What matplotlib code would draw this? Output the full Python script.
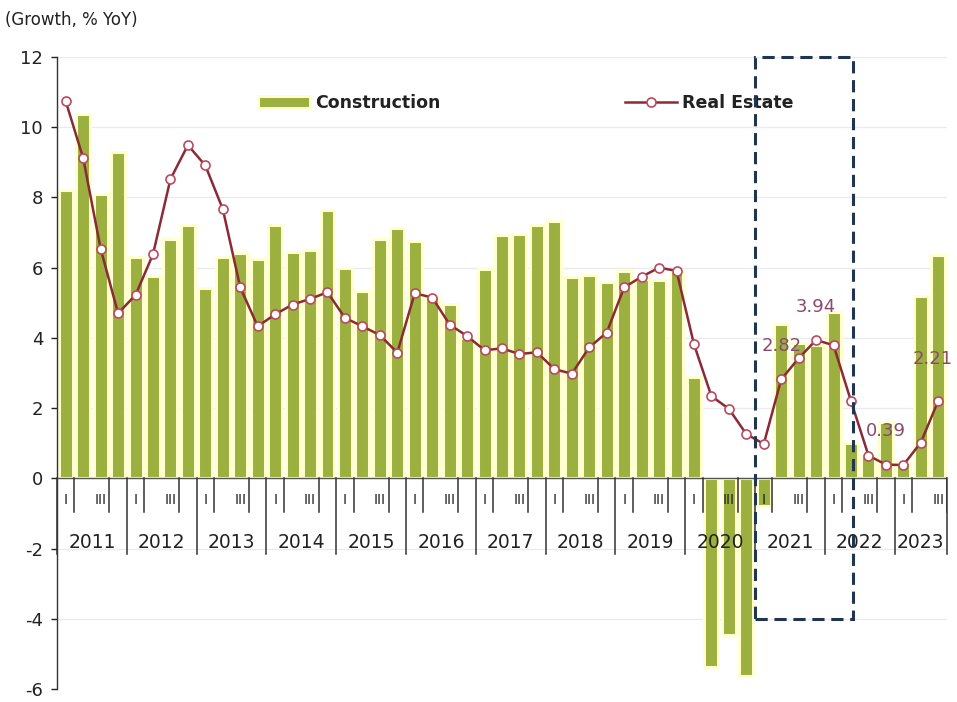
import matplotlib
matplotlib.use("Agg")
import matplotlib.pyplot as plt
from matplotlib.patches import Rectangle
import numpy as np

# ---------------- data ----------------
years = ['2011', '2012', '2013', '2014', '2015', '2016', '2017',
         '2018', '2019', '2020', '2021', '2022', '2023']
quarters_per_year = [4, 4, 4, 4, 4, 4, 4, 4, 4, 4, 4, 4, 3]
quarter_labels = ['I', '', 'III', '']

construction = [8.21, 10.39, 8.09, 9.29, 6.30, 5.77, 6.83, 7.22, 5.42, 6.30,
                6.43, 6.24, 7.22, 6.44, 6.50, 7.64, 6.00, 5.34, 6.83, 7.13,
                6.77, 5.20, 4.97, 4.00, 5.97, 6.94, 6.95, 7.22, 7.34, 5.72,
                5.79, 5.60, 5.91, 5.67, 5.65, 5.90, 2.90, -5.36, -4.45, -5.62,
                -0.80, 4.40, 3.85, 3.80, 4.75, 1.02, 0.65, 1.61, 0.46, 5.20,
                6.37]

real_estate = [10.74, 9.12, 6.54, 4.70, 5.22, 6.38, 8.52, 9.49, 8.91, 7.67,
               5.44, 4.33, 4.67, 4.95, 5.11, 5.30, 4.57, 4.33, 4.08, 3.58,
               5.27, 5.15, 4.38, 4.05, 3.65, 3.70, 3.54, 3.59, 3.11, 2.98,
               3.73, 4.15, 5.44, 5.74, 6.00, 5.91, 3.82, 2.34, 1.98, 1.26,
               0.98, 2.82, 3.42, 3.94, 3.79, 2.20, 0.65, 0.39, 0.38, 1.02,
               2.21]

labelled_points = [41, 43, 47, 50]
highlight_quarters = (40, 45)   # 2021 Q1 .. 2022 Q2 (box)

# ---------------- figure ----------------
plt.rcParams['font.family'] = ['DejaVu Sans']
plt.rcParams['axes.unicode_minus'] = False
W, H = 957, 702
fig = plt.figure(figsize=(W / 100, H / 100), dpi=100)
ax = fig.add_axes([57 / W, (H - 689) / H, (947 - 57) / W, (689 - 57) / H])

n = len(construction)
x = np.arange(n)

bar_green = '#9BB03F'
cream = '#FFFFCF'
line_col = '#8A2A36'

# grid
for gy in [-4, -2, 2, 4, 6, 8, 10, 12]:
    ax.axhline(gy, color='#EBEBEB', lw=1.0, zorder=0)

bars = ax.bar(x, construction, width=0.8, color=bar_green, edgecolor=cream,
              linewidth=2.2, zorder=2, label='Construction')

line, = ax.plot(x, real_estate, color=line_col, lw=1.8, marker='o', ms=6.5,
                mfc='white', mec='#B84A60', mew=1.2, zorder=4,
                label='Real Estate')

# zero axis line
ax.axhline(0, color='#555555', lw=1.0, zorder=3)

# quarter / year separators and labels
start = 0
for yr, nq in zip(years, quarters_per_year):
    left = start - 0.5
    ax.plot([left, left], [0, -2.15], color='#333333', lw=1.1,
            zorder=3, clip_on=False)
    for q in range(nq):
        pos = start + q
        lab = quarter_labels[q]
        if lab:
            ax.text(pos, -0.62, lab, ha='center', va='center', fontsize=10,
                    color='#222222', zorder=5)
            ax.plot([pos + 0.5, pos + 0.5], [0, -0.95], color='#333333',
                    lw=1.1, zorder=3)
    ax.text(start + (nq - 1) / 2, -1.82, yr, ha='center', va='center',
            fontsize=13.5, color='#222222', zorder=5)
    start += nq
ax.plot([start - 0.5, start - 0.5], [0, -2.15], color='#333333', lw=1.1,
        zorder=3, clip_on=False)

# highlight box
a, b = highlight_quarters
rect = Rectangle((a - 0.5, -4), (b + 0.1) - (a - 0.5), 16, fill=False,
                 edgecolor='#1F3550', lw=2.2, ls=(0, (4, 2.2)),
                 zorder=6, clip_on=False)
ax.add_patch(rect)

# data labels
for i in labelled_points:
    off = 24 if i != 50 else 30
    dx = 0 if i != 50 else -4
    ax.annotate(f'{real_estate[i]:.2f}', (x[i], real_estate[i]),
                xytext=(dx, off), textcoords='offset points',
                ha='center', va='center', fontsize=13,
                color='#8A4A70', zorder=7)

# axes
ax.set_xlim(-0.5, n - 0.5)
ax.set_ylim(-6, 12)
ax.set_yticks(np.arange(-6, 13, 2))
ax.set_xticks([])
ax.tick_params(axis='y', labelsize=13, colors='#222222', length=4,
               width=1, pad=6)
for s in ['top', 'right', 'bottom']:
    ax.spines[s].set_visible(False)
ax.spines['left'].set_color('#333333')
ax.spines['left'].set_linewidth(1.0)

# legend
leg = ax.legend(handles=[bars, line], labels=['Construction', 'Real Estate'],
                loc='center left', bbox_to_anchor=(258 / W, 1 - 103 / H),
                bbox_transform=fig.transFigure, ncol=2, frameon=False,
                handlelength=3.0, handletextpad=0.3, columnspacing=10.6,
                borderpad=0, borderaxespad=0,
                prop={'weight': 'bold', 'size': 12.5})
for t in leg.get_texts():
    t.set_color('#222222')

fig.text(5 / W, 1 - 20 / H, '(Growth, % YoY)', ha='left', va='center',
         fontsize=12, color='#222222')

fig.savefig('out.png', dpi=100)
